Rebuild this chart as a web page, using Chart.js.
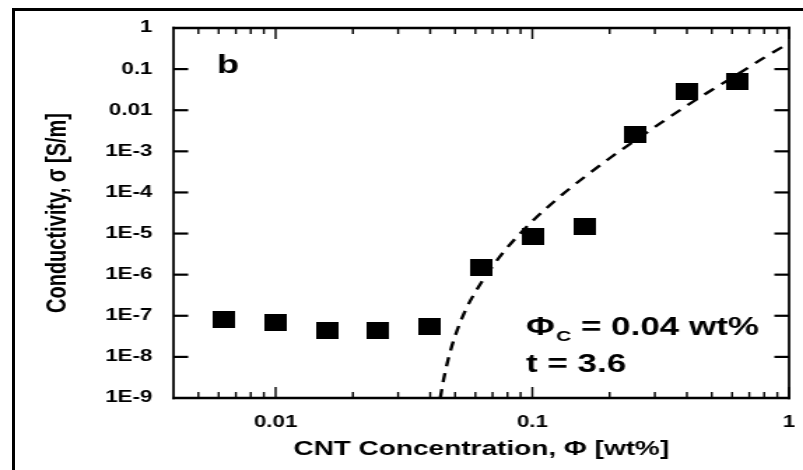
<!DOCTYPE html>
<html>
<head>
<meta charset="utf-8">
<script src="https://cdn.jsdelivr.net/npm/chart.js@4.4.1/dist/chart.umd.min.js"></script>
<style>
    html, body {
        margin: 0;
        padding: 0;
        background: #fff;
    }
    body {
        position: relative;
        width: 803px;
        height: 470px;
        overflow: hidden;
    }
    #frame {
        position: absolute;
        left: 12px;
        top: 8px;
        width: 830px;
        height: 520px;
        border: 3px solid #000;
        box-sizing: border-box;
    }
    /* the original figure is stretched sideways, so draw narrow and widen */
    #wrap {
        position: absolute;
        left: 0;
        top: 0;
        width: 574px;
        height: 470px;
        transform: scaleX(1.399);
        transform-origin: 0 0;
    }
</style>
</head>
<body>
<div id="frame"></div>
<div id="wrap"><canvas id="conductivityChart"></canvas></div>

<script>
// measured samples (CNT wt%, conductivity S/m)
const concentration = [0.0063, 0.01, 0.016, 0.025, 0.04, 0.063, 0.1, 0.16, 0.25, 0.4, 0.63];
const conductivity = [7.9e-8, 6.7e-8, 4.5e-8, 4.5e-8, 5.6e-8, 1.46e-6, 8.7e-6, 1.5e-5, 2.5e-3, 0.028, 0.049];

// percolation fit
const fitConcentration = [0.0438, 0.045, 0.047, 0.05, 0.055, 0.06, 0.07, 0.08, 0.1, 0.13, 0.16, 0.2, 0.25, 0.32, 0.4, 0.5, 0.63, 0.8, 1.0];
const fitConductivity = [1e-9, 2.6e-9, 8.7e-9, 3.2e-8, 1.4e-7, 3.8e-7, 1.6e-6, 4.6e-6, 2e-5, 8.6e-5, 2.4e-4, 6.8e-4, 1.8e-3, 5.1e-3, 1.3e-2, 3.1e-2, 7.5e-2, 0.19, 0.43];

// axes
const xTicks = [0.01, 0.1, 1];
const xTickLabels = ["0.01", "0.1", "1"];
const xMinorTicks = [0.005, 0.006, 0.007, 0.008, 0.009, 0.02, 0.03, 0.04, 0.05, 0.06, 0.07, 0.08, 0.09,
    0.2, 0.3, 0.4, 0.5, 0.6, 0.7, 0.8, 0.9];
const yTicks = [1e-9, 1e-8, 1e-7, 1e-6, 1e-5, 1e-4, 1e-3, 0.01, 0.1, 1];
const yTickLabels = ["1E-9", "1E-8", "1E-7", "1E-6", "1E-5", "1E-4", "1E-3", "0.01", "0.1", "1"];

const STRETCH = 803 / 574;
const FONT = "'Liberation Sans', Arial, sans-serif";

// black rectangle marker, wider than tall once stretched
function makeMarker() {
    const c = document.createElement("canvas");
    c.width = 16;
    c.height = 17;
    const g = c.getContext("2d");
    g.fillStyle = "#000";
    g.fillRect(0, 0, 16, 17);
    return c;
}

// closed box with ticks pointing inward, on all four sides
const frameTicks = {
    id: "frameTicks",
    afterDraw(chart) {
        const { ctx, chartArea: a, scales: { x, y } } = chart;
        ctx.save();
        ctx.strokeStyle = "#000";
        ctx.lineCap = "butt";

        const seg = (x1, y1, x2, y2, w) => {
            ctx.lineWidth = w;
            ctx.beginPath();
            ctx.moveTo(x1, y1);
            ctx.lineTo(x2, y2);
            ctx.stroke();
        };

        const vw = 2.5 / STRETCH;
        seg(a.left - vw / 2, a.top, a.right + vw / 2, a.top, 2.5);
        seg(a.left - vw / 2, a.bottom, a.right + vw / 2, a.bottom, 2.5);
        seg(a.left, a.top - 1.25, a.left, a.bottom + 1.25, vw);
        seg(a.right, a.top - 1.25, a.right, a.bottom + 1.25, vw);

        yTicks.forEach(v => {
            if (v === y.min || v === y.max) return;
            const py = y.getPixelForValue(v);
            seg(a.left, py, a.left + 10.5, py, 2.2);
            seg(a.right, py, a.right - 10.5, py, 2.2);
        });

        const tw = 2 / STRETCH;
        xTicks.forEach(v => {
            const px = x.getPixelForValue(v);
            seg(px, a.bottom, px, a.bottom - 11, tw);
            seg(px, a.top, px, a.top + 11, tw);
        });
        xMinorTicks.forEach(v => {
            const px = x.getPixelForValue(v);
            seg(px, a.bottom, px, a.bottom - 6, tw);
            seg(px, a.top, px, a.top + 6, tw);
        });

        // panel letter and fit parameters
        ctx.fillStyle = "#000";
        ctx.textBaseline = "alphabetic";
        ctx.textAlign = "left";
        ctx.font = "bold 26px " + FONT;
        ctx.fillText("b", 155, 73);

        ctx.font = "bold 25px " + FONT;
        let tx = 376;
        ctx.fillText("\u03A6", tx, 335);
        tx += ctx.measureText("\u03A6").width;
        ctx.font = "bold 15px " + FONT;
        ctx.fillText("C", tx + 1, 341);
        tx += ctx.measureText("C").width + 1;
        ctx.font = "bold 25px " + FONT;
        ctx.fillText(" = 0.04 wt%", tx, 335);
        ctx.fillText("t = 3.6", 376, 372);

        ctx.restore();
    }
};

function noEdgePadding(scale) {
    scale.paddingLeft = 0;
    scale.paddingRight = 0;
    scale.paddingTop = 0;
    scale.paddingBottom = 0;
}

function createConductivityChart() {
    const canvas = document.getElementById("conductivityChart");

    const samples = concentration.map((c, i) => ({ x: c, y: conductivity[i] }));
    const fit = fitConcentration.map((c, i) => ({ x: c, y: fitConductivity[i] }));

    new Chart(canvas, {
        type: "scatter",
        data: {
            datasets: [
                {
                    label: "Fit",
                    data: fit,
                    showLine: true,
                    borderColor: "#000",
                    borderWidth: 2.4,
                    borderDash: [9, 7],
                    cubicInterpolationMode: "monotone",
                    pointRadius: 0,
                    pointHoverRadius: 0
                },
                {
                    label: "Conductivity",
                    data: samples,
                    pointStyle: makeMarker(),
                    pointRadius: 9,
                    backgroundColor: "#000",
                    borderColor: "#000"
                }
            ]
        },
        options: {
            responsive: true,
            maintainAspectRatio: false,
            animation: false,
            layout: {
                padding: { top: 28, right: 8, left: 0, bottom: 0 }
            },
            plugins: {
                legend: { display: false },
                tooltip: { enabled: false }
            },
            scales: {
                x: {
                    type: "logarithmic",
                    min: 0.004,
                    max: 1,
                    grid: { display: false, drawTicks: false },
                    border: { display: false },
                    afterBuildTicks(scale) {
                        scale.ticks = xTicks.map(v => ({ value: v }));
                    },
                    afterFit(scale) {
                        scale.height = 72;
                        noEdgePadding(scale);
                    },
                    ticks: {
                        autoSkip: false,
                        maxRotation: 0,
                        padding: 15,
                        color: "#000",
                        font: { family: FONT, size: 16, weight: "bold" },
                        callback: (value, index) => xTickLabels[index]
                    },
                    title: {
                        display: true,
                        text: "CNT Concentration, \u03A6 [wt%]",
                        color: "#000",
                        font: { family: FONT, size: 20, weight: "bold" },
                        padding: { top: 0, bottom: 9 }
                    }
                },
                y: {
                    type: "logarithmic",
                    min: 1e-9,
                    max: 1,
                    grid: { display: false, drawTicks: false },
                    border: { display: false },
                    afterBuildTicks(scale) {
                        scale.ticks = yTicks.map(v => ({ value: v }));
                    },
                    afterFit(scale) {
                        scale.width = 124;
                        noEdgePadding(scale);
                    },
                    ticks: {
                        autoSkip: false,
                        padding: 15,
                        color: "#000",
                        font: { family: FONT, size: 16, weight: "bold" },
                        callback: (value, index) => yTickLabels[index]
                    },
                    title: {
                        display: true,
                        text: "Conductivity, \u03C3 [S/m]",
                        color: "#000",
                        font: { family: FONT, size: 20, weight: "bold" },
                        padding: { top: 29, bottom: 0 }
                    }
                }
            }
        },
        plugins: [frameTicks]
    });
}

createConductivityChart();
</script>
</body>
</html>
